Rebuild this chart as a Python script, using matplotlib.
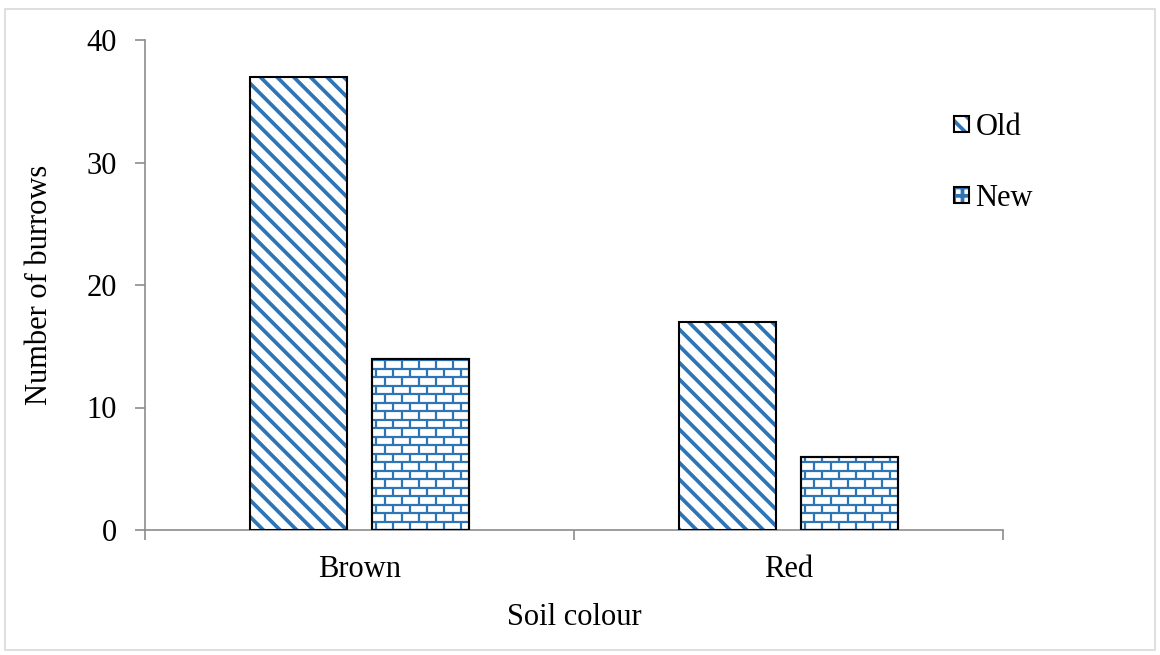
import numpy as np
import matplotlib
matplotlib.use("Agg")
import matplotlib.pyplot as plt
from matplotlib.patches import Rectangle, Patch
from matplotlib.collections import LineCollection
from matplotlib.transforms import IdentityTransform

soils = ["Brown", "Red"]
old_burrows = [37, 17]
new_burrows = [14, 6]
yticks = [0, 10, 20, 30, 40]

blue = "#2E75B6"
grey = "#8C8C8C"

plt.rcParams["font.family"] = ["Liberation Serif", "DejaVu Serif"]
plt.rcParams["font.size"] = 22
plt.rcParams["hatch.linewidth"] = 2.7

fig = plt.figure(figsize=(11.6, 6.55), dpi=100)
fig.patches.append(Rectangle((5 / 1160, 5 / 655), 1150 / 1160, 641 / 655,
                             transform=fig.transFigure, fill=False,
                             edgecolor="#D9D9D9", linewidth=1.2))

ax = fig.add_axes([145 / 1160, 1 - 530 / 655, 858 / 1160, 490 / 655])

x = np.arange(len(soils))
w = 0.226
off = 0.143
# hatch takes the edge colour, so the blue stripes go on a borderless bar
ax.bar(x - off, old_burrows, w, facecolor="white", edgecolor=blue,
       linewidth=0, hatch="\\\\", zorder=2)
old_edges = ax.bar(x - off, old_burrows, w, fill=False, edgecolor="black",
                   linewidth=1.5, zorder=3)
new_bars = ax.bar(x + off, new_burrows, w, facecolor="white", edgecolor="black",
                  linewidth=1.5, zorder=2)

ax.set_xlim(-0.5, 1.5)
ax.set_ylim(0, 40)
ax.set_yticks(yticks)
ax.set_xticks(x)
ax.set_xticklabels(soils)
ax.set_xticks([-0.5, 0.5, 1.5], minor=True)
ax.tick_params(axis="x", which="major", length=0, pad=18)
ax.tick_params(axis="x", which="minor", length=7, width=1.2, color=grey,
               direction="out")
ax.tick_params(axis="y", length=7, width=1.2, color=grey, pad=13)

for s in ["top", "right"]:
    ax.spines[s].set_visible(False)
for s in ["left", "bottom"]:
    ax.spines[s].set_color(grey)
    ax.spines[s].set_linewidth(1.2)

ax.set_xlabel("Soil colour", labelpad=14)
ax.set_ylabel("Number of burrows", labelpad=24)

# brick pattern for the "New" bars, drawn in pixel space and clipped to each bar
fig.canvas.draw()
y0 = ax.transData.transform((0, 0))[1]
row_h, brick_w = 8.5, 17.0
for bar in new_bars:
    bb = bar.get_window_extent()
    segs = []
    nrows = int(np.ceil((bb.y1 - y0) / row_h)) + 1
    for i in range(nrows):
        yb = y0 + i * row_h
        segs.append([(bb.x0 - 2, yb), (bb.x1 + 2, yb)])
        shift = 0 if i % 2 == 0 else brick_w / 2
        xv = bb.x0 + 4 + shift - brick_w
        while xv < bb.x1 + 2:
            segs.append([(xv, yb), (xv, yb + row_h)])
            xv += brick_w
    lc = LineCollection(segs, colors=blue, linewidths=1.6,
                        transform=IdentityTransform(), zorder=2.5)
    ax.add_collection(lc)
    lc.set_clip_path(bar)
    ax.add_patch(Rectangle(bar.get_xy(), bar.get_width(), bar.get_height(),
                           fill=False, edgecolor="black", linewidth=1.5,
                           zorder=3))

outline = dict(fill=False, edgecolor="black", linewidth=1.5)
h_old = (Patch(facecolor="white", edgecolor=blue, linewidth=0, hatch="\\\\"),
         Patch(**outline))
h_new = (Patch(facecolor="white", edgecolor=blue, linewidth=0, hatch="++"),
         Patch(**outline))
ax.legend([h_old, h_new], ["Old", "New"], loc="upper left",
          bbox_to_anchor=(954 / 1160, 1 - 113 / 655),
          bbox_transform=fig.transFigure, frameon=False,
          handlelength=0.5, handleheight=0.45, handletextpad=0.2,
          labelspacing=1.38, borderpad=0, borderaxespad=0)

fig.savefig("out.png", dpi=100)
